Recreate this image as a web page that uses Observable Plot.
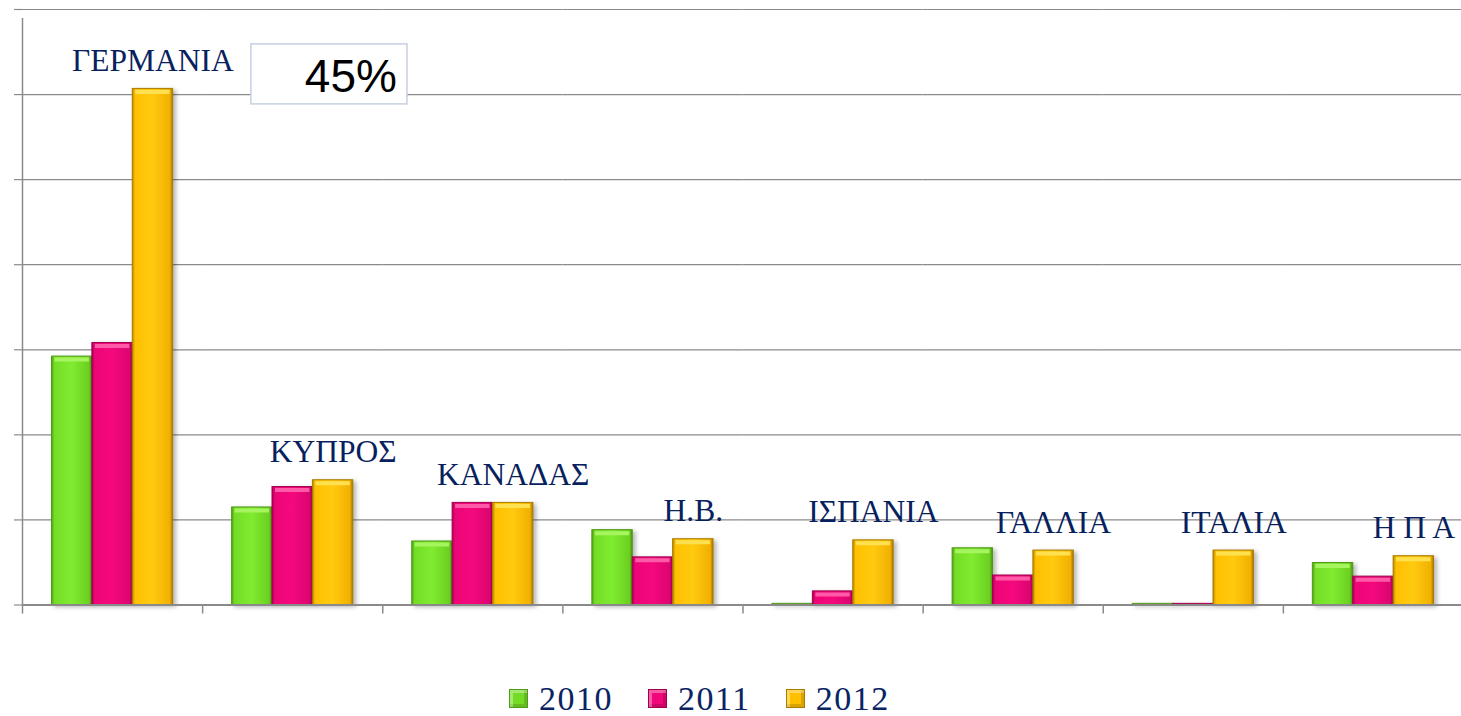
<!DOCTYPE html>
<html><head><meta charset="utf-8">
<script src="https://cdn.jsdelivr.net/npm/d3@7"></script>
<script src="https://cdn.jsdelivr.net/npm/@observablehq/plot@0.6"></script>
<style>
body{margin:0;background:#fff;}
#chart svg g[aria-label="bar"] rect{filter:drop-shadow(3px 2px 2px rgba(0,0,0,0.28));}
#legend{display:flex;align-items:center;box-sizing:border-box;height:46px;padding-top:11px;padding-left:509px;font-family:"Liberation Serif","Times New Roman",serif;font-size:34px;letter-spacing:1.5px;color:#0a2463;}
#legend .item{display:flex;align-items:center;margin-right:35px;}
#legend .sw{width:19px;height:19px;box-sizing:border-box;margin-right:11px;}
</style>
</head><body>
<svg width="0" height="0" style="position:absolute">
<defs>
<linearGradient id="g2010" x1="0" x2="1" y1="0" y2="0">
<stop offset="0" stop-color="#4e9d12"/><stop offset="0.07" stop-color="#74dc26"/><stop offset="0.5" stop-color="#80ec30"/><stop offset="0.93" stop-color="#6bcf20"/><stop offset="1" stop-color="#4a8e10"/>
</linearGradient>
<linearGradient id="g2011" x1="0" x2="1" y1="0" y2="0">
<stop offset="0" stop-color="#a8004f"/><stop offset="0.07" stop-color="#ec0677"/><stop offset="0.5" stop-color="#f5087e"/><stop offset="0.93" stop-color="#dc0570"/><stop offset="1" stop-color="#9a0048"/>
</linearGradient>
<linearGradient id="g2012" x1="0" x2="1" y1="0" y2="0">
<stop offset="0" stop-color="#b98700"/><stop offset="0.07" stop-color="#ffc000"/><stop offset="0.5" stop-color="#ffca10"/><stop offset="0.93" stop-color="#f2b000"/><stop offset="1" stop-color="#a67800"/>
</linearGradient>
</defs>
</svg>
<div id="chart"></div>
<div id="legend"></div>
<script>
const countries = ["ΓΕΡΜΑΝΙΑ","ΚΥΠΡΟΣ","ΚΑΝΑΔΑΣ","Η.Β.","ΙΣΠΑΝΙΑ","ΓΑΛΛΙΑ","ΙΤΑΛΙΑ","Η Π Α"];
const years = ["2010","2011","2012"];
const v2010 = [21.9, 8.6, 5.6, 6.6, 0.1, 5.0, 0.1, 3.7];
const v2011 = [23.1, 10.4, 9.0, 4.2, 1.2, 2.6, 0.1, 2.5];
const v2012 = [45.5, 11.0, 9.0, 5.8, 5.7, 4.8, 4.8, 4.3];
const yTicks = [0, 7.5, 15, 22.5, 30, 37.5, 45, 52.5];
const calloutText = "45%";
const fills = ["url(#g2010)","url(#g2011)","url(#g2012)"];
const edges = ["#4f9a17","#a0004c","#a87c00"];
const caps = ["#a6f45e","#ff5aa8","#ffe14f"];
const swatchColors = ["#74dc26","#f0077a","#ffc000"];

const series = [v2010, v2011, v2012];
const rows = years.map((y, k) => countries.map((c, i) => ({country: c, year: y, value: series[k][i]})));

const W = 1461, H = 670, mL = 22, mR = -2, mT = 9, mB = 65.5;
const step = (W - mL - mR) / countries.length;
const gridColor = "#8a8a8a";
const labelFont = "Liberation Serif, Times New Roman, serif";

const marks = [
  Plot.ruleY(yTicks.filter(d => d > 0), {stroke: gridColor, strokeWidth: 1.2}),
  Plot.axisY(yTicks, {tickSize: 8, tickFormat: () => "", stroke: gridColor, strokeWidth: 1.2, label: null}),
  // category boundary ticks below the baseline
  Plot.ruleX([0], {x: null, y1: 0, y2: 0, insetBottom: -9, dx: -step / 2, stroke: gridColor, strokeWidth: 1.5}),
  // vertical axis line in first facet
  Plot.ruleX([{country: countries[0]}], {fx: "country", x: null, y1: 0, y2: yTicks[yTicks.length - 1], insetBottom: -9, dx: -step / 2, stroke: gridColor, strokeWidth: 1.5}),
];
years.forEach((y, k) => {
  marks.push(Plot.barY(rows[k], {fx: "country", x: "year", y: "value", fill: fills[k], stroke: edges[k], strokeWidth: 1}));
  marks.push(Plot.tickY(rows[k].filter(d => d.value > 1), {fx: "country", x: "year", y: "value", stroke: caps[k], strokeWidth: 4, dy: 3, insetLeft: 3, insetRight: 3}));
});
marks.push(Plot.ruleY([0], {stroke: gridColor, strokeWidth: 2}));
marks.push(Plot.text(rows[2], {fx: "country", x: "year", y: "value", text: "country", dy: -18, lineAnchor: "bottom", fontFamily: labelFont, fontSize: 31.5, fill: "#07215e"}));
marks.push(Plot.text([rows[2][0]], {fx: "country", x: "year", y: "value", text: () => calloutText, dx: 244, dy: 3, textAnchor: "end", lineAnchor: "bottom", fontFamily: "Liberation Sans, Arial, sans-serif", fontSize: 46, fill: "#000"}));

const chart = Plot.plot({
  width: W, height: H, marginLeft: mL, marginRight: mR, marginTop: mT, marginBottom: mB,
  fx: {domain: countries, padding: 0, round: false, axis: null},
  x: {domain: years, paddingInner: 0, paddingOuter: 0.73, round: false, axis: null},
  y: {domain: [0, yTicks[yTicks.length - 1]], axis: null},
  style: {background: "#fff", overflow: "visible"},
  marks
});
document.getElementById("chart").appendChild(chart);

// box behind callout
const callout = Array.from(chart.querySelectorAll("text")).find(t => t.textContent === calloutText);
if (callout) {
  const bb = callout.getBBox();
  const r = document.createElementNS("http://www.w3.org/2000/svg", "rect");
  r.setAttribute("x", bb.x - 54);
  r.setAttribute("y", bb.y - 6);
  r.setAttribute("width", bb.width + 64);
  r.setAttribute("height", bb.height + 8);
  r.setAttribute("fill", "#fff");
  r.setAttribute("stroke", "#c6d0e2");
  r.setAttribute("stroke-width", "1.5");
  const tr = callout.getAttribute("transform");
  if (tr) r.setAttribute("transform", tr);
  callout.parentNode.insertBefore(r, callout);
}

const legend = document.getElementById("legend");
years.forEach((y, k) => {
  const it = document.createElement("div");
  it.className = "item";
  const sw = document.createElement("div");
  sw.className = "sw";
  sw.style.background = swatchColors[k];
  sw.style.border = "1px solid " + edges[k];
  sw.style.boxShadow = "inset 3px 3px 0 rgba(255,255,255,0.35), inset -3px -3px 0 rgba(0,0,0,0.15)";
  const tx = document.createElement("span");
  tx.textContent = y;
  it.appendChild(sw); it.appendChild(tx);
  legend.appendChild(it);
});
</script>
</body></html>
